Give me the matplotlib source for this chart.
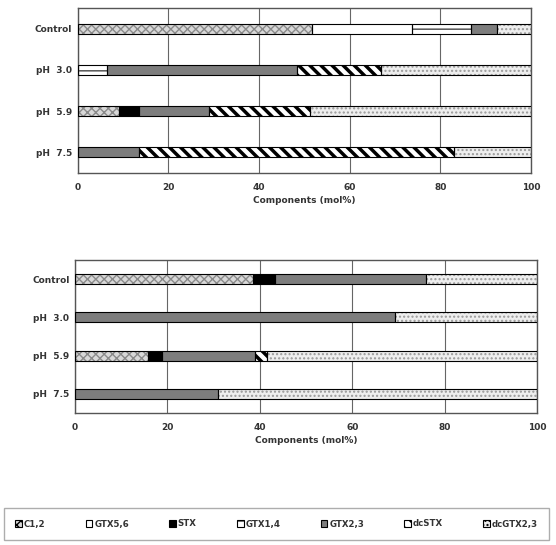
import matplotlib
matplotlib.use("Agg")
from matplotlib import pyplot as plt
from matplotlib.patches import Patch
import numpy as np

plt.rcParams['font.family'] = ['DejaVu Sans']

rows = ["Control", "pH  3.0", "pH  5.9", "pH  7.5"]
components = ["C1,2", "GTX5,6", "STX", "GTX1,4", "GTX2,3", "dcSTX", "dcGTX2,3"]

# mol% per component, one list per row (Control, pH 3.0, pH 5.9, pH 7.5)
top_c12 = [51.7, 0, 9.2, 0]
top_gtx56 = [22.1, 0, 0, 0]
top_stx = [0, 0, 4.4, 0]
top_gtx14 = [13.0, 6.5, 0, 0]
top_gtx23 = [5.6, 42.0, 15.3, 13.6]
top_dcstx = [0, 18.5, 22.4, 69.4]
top_dcgtx23 = [7.6, 33.0, 48.7, 17.0]

bot_c12 = [38.5, 0, 15.9, 0]
bot_gtx56 = [0, 0, 0, 0]
bot_stx = [4.8, 0, 2.9, 0]
bot_gtx14 = [0, 0, 0, 0]
bot_gtx23 = [32.7, 69.3, 20.2, 31.0]
bot_dcstx = [0, 0, 2.5, 0]
bot_dcgtx23 = [24.0, 30.7, 58.5, 69.0]

# face, hatch, hatch colour, hatch width
styles = {
    "C1,2": ("#d8d8d8", "xxxx", "#8a8a8a", 1.0),
    "GTX5,6": ("white", None, None, 1.0),
    "STX": ("black", None, None, 1.0),
    "GTX1,4": ("white", "--", "#444444", 1.0),
    "GTX2,3": ("#7d7d7d", None, None, 1.0),
    "dcSTX": ("white", "\\\\\\", "black", 2.5),
    "dcGTX2,3": ("#eeeeee", "....", "#9a9a9a", 1.0),
}


def draw_segment(ax, y, left, width, name, height):
    face, hatch, hcol, hlw = styles[name]
    if hatch:
        b = ax.barh(y, width, left=left, height=height, color=face,
                    edgecolor=hcol, hatch=hatch, linewidth=0, zorder=2)
        for p in b:
            if hasattr(p, "set_hatch_linewidth"):
                p.set_hatch_linewidth(hlw)
    else:
        ax.barh(y, width, left=left, height=height, color=face,
                linewidth=0, zorder=2)
    ax.barh(y, width, left=left, height=height, fill=False,
            edgecolor="black", linewidth=0.8, zorder=3)


def stacked(ax, data, height):
    y = np.arange(len(rows))
    left = np.zeros(len(rows))
    for name, vals in zip(components, data):
        for i in range(len(rows)):
            if vals[i] > 0:
                draw_segment(ax, y[i], left[i], vals[i], name, height)
        left += np.array(vals)
    ax.set_xlim(0, 100)
    ax.set_ylim(3.5, -0.5)
    ax.set_yticks(y)
    ax.set_yticklabels(rows, fontsize=6.5, fontweight='bold', color='#333333')
    ax.set_xticks([0, 20, 40, 60, 80, 100])
    ax.tick_params(axis='x', labelsize=6.5, length=0, pad=7, colors='#333333')
    ax.tick_params(axis='y', length=0, pad=4)
    for lab in ax.get_xticklabels():
        lab.set_fontweight('bold')
    ax.grid(axis='x', color='#666666', linewidth=0.8, zorder=0)
    ax.set_axisbelow(True)
    for s in ax.spines.values():
        s.set_color('#555555')
        s.set_linewidth(1.0)
    ax.set_xlabel("Components (mol%)", fontsize=6.5, fontweight='bold',
                  color='#333333', labelpad=3)


fig = plt.figure(figsize=(5.56, 5.45), dpi=100)
ax1 = fig.add_axes([77.5 / 556, 1 - 173 / 545, 453.5 / 556, 165 / 545])
ax2 = fig.add_axes([75 / 556, 1 - 413 / 545, 462 / 556, 153 / 545])

stacked(ax1, [top_c12, top_gtx56, top_stx, top_gtx14, top_gtx23, top_dcstx, top_dcgtx23], 0.24)
stacked(ax2, [bot_c12, bot_gtx56, bot_stx, bot_gtx14, bot_gtx23, bot_dcstx, bot_dcgtx23], 0.26)

handles = []
for name in components:
    face, hatch, hcol, hlw = styles[name]
    handles.append(Patch(facecolor=face, hatch=hatch, edgecolor='black', linewidth=0.8))
leg = fig.legend(handles, components, loc='center', ncol=7, mode='expand',
                 bbox_to_anchor=(4 / 556, 1 - 543 / 545, 545 / 556, 38 / 545),
                 fontsize=6.2, handlelength=0.8, handleheight=0.8,
                 handletextpad=0.2, columnspacing=1.0, borderpad=1.3,
                 borderaxespad=0, fancybox=False)
leg.get_frame().set_edgecolor('#999999')
leg.get_frame().set_linewidth(1.0)
for t in leg.get_texts():
    t.set_fontweight('bold')
    t.set_color('#333333')

fig.savefig("out.png", dpi=100)
